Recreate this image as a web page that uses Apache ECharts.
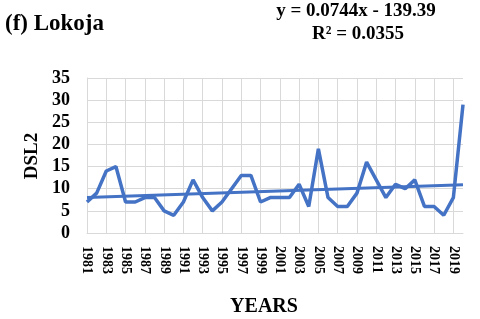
<!DOCTYPE html>
<html>
<head>
<meta charset="utf-8">
<script src="https://cdn.jsdelivr.net/npm/echarts@6/dist/echarts.min.js"></script>
<style>html,body{margin:0;padding:0;background:#fff;}#c{width:480px;height:319px;}</style>
</head>
<body>
<div id="c"></div>
<script>
const years = [];
for (let y = 1981; y <= 2020; y++) years.push(String(y));
const dsl2 = [7, 9, 14, 15, 7, 7, 8, 8, 5, 4, 7, 12, 8, 5, 7, 10, 13, 13, 7, 8,
              8, 8, 11, 6, 19, 8, 6, 6, 9, 16, 12, 8, 11, 10, 12, 6, 6, 4, 8, 29];
const trendEnds = [7.99, 10.89];
const yTicks = { min: 0, max: 35, interval: 5 };
const titleText = '(f) Lokoja';
const eqLine1 = 'y = 0.0744x - 139.39';
const eqLine2 = 'R² = 0.0355';
const xName = 'YEARS';
const yName = 'DSL2';

const trendData = years.map((y, i) => i === 0 ? trendEnds[0] : (i === years.length - 1 ? trendEnds[1] : null));
const serif = '"Liberation Serif", "Times New Roman", serif';
const chart = echarts.init(document.getElementById('c'));
chart.setOption({
  animation: false,
  graphic: [
    { type: 'text', x: 5, y: 24, style: { text: titleText, font: 'bold 23px ' + serif, fill: '#000', align: 'left', verticalAlign: 'middle' } },
    { type: 'text', x: 356, y: 11, style: { text: eqLine1, font: 'bold 19px ' + serif, fill: '#000', align: 'center', verticalAlign: 'middle' } },
    { type: 'text', x: 358, y: 34, style: { text: eqLine2, font: 'bold 19px ' + serif, fill: '#000', align: 'center', verticalAlign: 'middle' } },
    { type: 'text', x: 264, y: 307, style: { text: xName, font: 'bold 20px ' + serif, fill: '#000', align: 'center', verticalAlign: 'middle' } },
    { type: 'text', x: 32, y: 156, rotation: Math.PI / 2, style: { text: yName, font: 'bold 19px ' + serif, fill: '#000', align: 'center', verticalAlign: 'middle' } }
  ],
  grid: { left: 87, right: 17, top: 78, bottom: 86 },
  xAxis: {
    type: 'category', data: years, boundaryGap: false,
    axisLine: { lineStyle: { color: '#d9d9d9' } },
    axisTick: { show: false },
    axisLabel: { interval: 1, rotate: -90, fontFamily: serif, fontWeight: 'bold', fontSize: 14, color: '#000', margin: 13 },
    splitLine: { show: true, interval: 1, lineStyle: { color: '#d9d9d9', width: 1 } }
  },
  yAxis: {
    type: 'value', min: yTicks.min, max: yTicks.max, interval: yTicks.interval,
    axisLine: { show: true, lineStyle: { color: '#d9d9d9' } },
    axisTick: { show: false },
    axisLabel: { fontFamily: serif, fontWeight: 'bold', fontSize: 18, color: '#000', margin: 17 },
    splitLine: { show: true, lineStyle: { color: '#d9d9d9', width: 1 } }
  },
  series: [
    { type: 'line', data: dsl2, symbol: 'none', lineStyle: { color: '#4472C4', width: 3.5 }, z: 3 },
    { type: 'line', data: trendData, connectNulls: true, symbol: 'none', lineStyle: { color: '#4472C4', width: 3 }, z: 2 }
  ]
});
</script>
</body>
</html>
